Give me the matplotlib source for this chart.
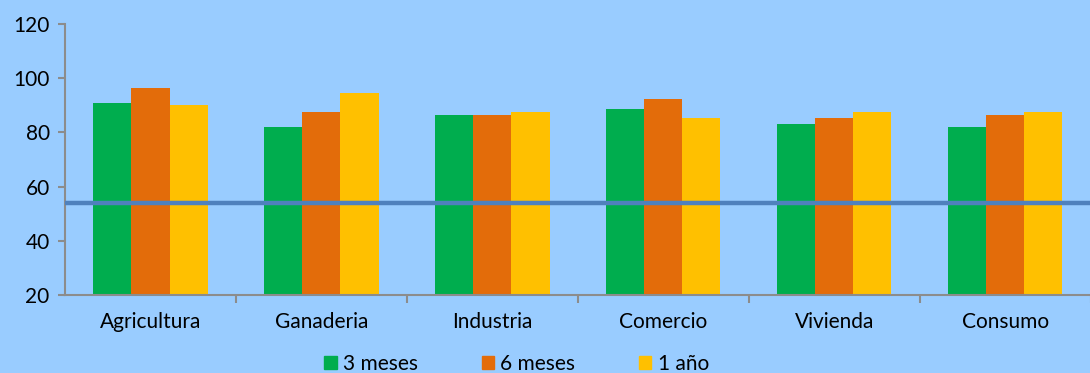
import numpy as np
import matplotlib.pyplot as plt
from matplotlib.patches import Patch

categories = ["Agricultura", "Ganaderia", "Industria", "Comercio", "Vivienda", "Consumo"]
meses3 = [91, 82, 86.5, 88.7, 83, 82]
meses6 = [96.5, 87.5, 86.5, 92.2, 85.3, 86.4]
anio1 = [90, 94.4, 87.5, 85.3, 87.5, 87.5]
umbral = 53.8

series = [("3 meses", meses3, "#00AD4E"), ("6 meses", meses6, "#E36C0A"), ("1 año", anio1, "#FFC000")]

bg = "#99CCFF"
plt.rcParams['font.family'] = ['Lato', 'DejaVu Sans']

fig = plt.figure(figsize=(10.9, 3.73), dpi=100, facecolor=bg)
ax = fig.add_axes([65/1090, 78/373, 1 - 65/1090 + 0.01, 271/373])
ax.set_facecolor(bg)

x = np.arange(len(categories))
w = 0.223
for i, (name, vals, col) in enumerate(series):
    ax.bar(x + (i - 1) * w, np.array(vals) - 20, w, bottom=20, color=col, label=name, zorder=2)

ax.axhline(umbral, color="#4F81BD", lw=3.2, zorder=3)

ax.set_xlim(-0.5, len(categories) - 0.5 + 0.06)
ax.set_ylim(20, 120)
ax.set_yticks(range(20, 121, 20))
ax.set_xticks(x)
ax.set_xticklabels(categories, fontsize=15)
ax.set_xticks(np.arange(len(categories)) + 0.5, minor=True)
ax.tick_params(axis='x', which='major', length=0, pad=12)
ax.tick_params(axis='x', which='minor', length=6, color="#8C8C8C", width=1.5)
ax.tick_params(axis='y', length=5, color="#8C8C8C", width=1.5, labelsize=15, pad=6)
for s in ["top", "right"]:
    ax.spines[s].set_visible(False)
for s in ["left", "bottom"]:
    ax.spines[s].set_color("#8C8C8C")
    ax.spines[s].set_linewidth(1.5)

handles = [Patch(color=c, label=n) for n, _, c in series]
fig.legend(handles=handles, loc="lower center", bbox_to_anchor=(0.474, -0.052), ncol=3,
           frameon=False, fontsize=15, handlelength=0.6, handleheight=0.6,
           handletextpad=0.3, columnspacing=3.05)

fig.savefig("out.png", dpi=100, facecolor=bg)
